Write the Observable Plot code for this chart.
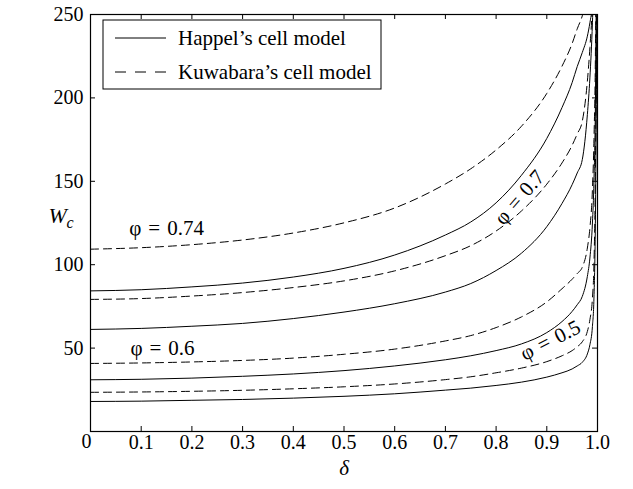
<!DOCTYPE html>
<html><head><meta charset="utf-8">
<script src="https://cdn.jsdelivr.net/npm/d3@7"></script>
<script src="https://cdn.jsdelivr.net/npm/@observablehq/plot@0.6"></script>
<style>body{margin:0;background:#fff}#chart{width:633px;height:489px}</style>
</head><body><div id="chart"></div>
<script>
// ---- data ----
const delta = [0, 0.1, 0.2, 0.3, 0.4, 0.5, 0.6, 0.7, 0.75, 0.8, 0.85, 0.9, 0.93, 0.95, 0.96, 0.97, 0.98, 0.985, 0.99, 0.993, 0.996, 0.999];
const happel50   = [18.0, 18.2, 18.7, 19.2, 20.0, 21.1, 22.6, 24.8, 26.0, 27.6, 29.6, 32.6, 35.2, 37.5, 39.3, 41.5, 46.5, 52, 63, 80, 130, 260];
const kuwabara50 = [23.5, 23.7, 24.1, 24.7, 25.6, 26.8, 28.5, 31.1, 32.8, 35.2, 38.0, 41.9, 45.4, 48.5, 50.8, 53.8, 60, 67, 80, 100, 160, 300];
const happel60   = [31.0, 31.3, 32.0, 33.1, 34.5, 36.5, 39.3, 43.0, 45.4, 48.5, 52.5, 59.3, 65.9, 72.0, 76.0, 81.0, 93, 104, 125, 150, 200, 330];
const kuwabara60 = [40.8, 41.1, 41.7, 42.6, 44.0, 46.3, 49.4, 54.3, 57.5, 62.3, 68.7, 77.7, 85.6, 91.3, 94.7, 98.5, 110, 122, 145, 175, 230, 380];
const happel70   = [61.2, 61.8, 63.1, 64.8, 67.7, 71.6, 76.6, 83.6, 88.7, 96.5, 106.9, 122.8, 136.7, 148, 155, 163, 190, 212, 245, 275, 330, 450];
const kuwabara70 = [79.2, 79.7, 81.2, 83.3, 86.3, 90.3, 96.3, 105.4, 111.4, 120.2, 132.2, 148.3, 161, 171.6, 178.4, 186, 210, 230, 258, 290, 350, 480];
const happel74   = [84.3, 85.0, 86.7, 89.0, 92.6, 97.8, 105.8, 117.8, 125.6, 137.1, 153.6, 175.7, 194.2, 209.2, 218.8, 227.2, 237, 245, 256, 270, 320, 420];
const kuwabara74 = [109.3, 110.2, 112.0, 114.8, 119.0, 125.1, 134, 148.4, 157.5, 168.8, 183, 202.7, 219, 232.6, 241.4, 249.2, 262, 272, 290, 310, 360, 480];

const xTicks = [0.1, 0.2, 0.3, 0.4, 0.5, 0.6, 0.7, 0.8, 0.9, 1.0];
const yTicks = [50, 100, 150, 200, 250];
const tickMarksX = [0, 0.1, 0.2, 0.3, 0.4, 0.5, 0.6, 0.7, 0.8, 0.9, 1.0];
const tickMarksY = [0, 50, 100, 150, 200, 250];

const seriesNames = ["Happel\u2019s cell model", "Kuwabara\u2019s cell model"];
const sp = "\u2004";
const phiLabels = [
  {text: `φ${sp}=${sp}0.74`, d: 0.150, w: 121.7, angle: 0},
  {text: `φ${sp}=${sp}0.6`,  d: 0.142, w: 49.8,  angle: 0},
  {text: `φ${sp}=${sp}0.7`,  d: 0.846, w: 140.3, angle: -49},
  {text: `φ${sp}=${sp}0.5`,  d: 0.907, w: 54.6,  angle: -27}
];

const series = [
  {key: "H50", model: "Happel", v: happel50}, {key: "K50", model: "Kuwabara", v: kuwabara50},
  {key: "H60", model: "Happel", v: happel60}, {key: "K60", model: "Kuwabara", v: kuwabara60},
  {key: "H70", model: "Happel", v: happel70}, {key: "K70", model: "Kuwabara", v: kuwabara70},
  {key: "H74", model: "Happel", v: happel74}, {key: "K74", model: "Kuwabara", v: kuwabara74}
];
const rows = series.flatMap(s => delta.map((d, i) => ({delta: d, W: s.v[i], key: s.key, model: s.model})));

// ---- layout ----
const W = 633, H = 489, mL = 90, mR = 36, mT = 14, mB = 58;
const pw = W - mL - mR, ph = H - mT - mB;
const font = "'Liberation Serif','Times New Roman',serif";
const dash = "8,5";

const marks = [
  Plot.line(rows.filter(r => r.model === "Happel"), {x: "delta", y: "W", z: "key", stroke: "black", strokeWidth: 1, curve: "monotone-x", clip: true}),
  Plot.line(rows.filter(r => r.model === "Kuwabara"), {x: "delta", y: "W", z: "key", stroke: "black", strokeWidth: 1, strokeDasharray: dash, curve: "monotone-x", clip: true}),
  Plot.tickX(tickMarksX, {x: d => d, insetTop: ph - 5, stroke: "black"}),
  Plot.tickX(tickMarksX, {x: d => d, insetBottom: ph - 5, stroke: "black"}),
  Plot.tickY(tickMarksY, {y: d => d, insetRight: pw - 5, stroke: "black"}),
  Plot.tickY(tickMarksY, {y: d => d, insetLeft: pw - 5, stroke: "black"}),
  Plot.axisX(xTicks, {tickSize: 0, tickPadding: 3, tickFormat: d3.format(".1f"), label: null, fontSize: 20}),
  Plot.axisY(yTicks, {tickSize: 0, tickPadding: 7, label: null, fontSize: 20}),
  Plot.text(["0"], {frameAnchor: "bottom-left", text: d => d, dx: -9, dy: 10, fontSize: 20, lineAnchor: "middle"}),
  Plot.text(phiLabels, {x: "d", y: "w", text: "text", rotate: "angle", fontSize: 21, textAnchor: "middle", lineAnchor: "middle"}),
  Plot.text([{t: "W", w: 129}], {frameAnchor: "left", y: "w", text: "t", dx: -42, fontSize: 22, fontStyle: "italic", textAnchor: "start"}),
  Plot.text([{t: "c", w: 129}], {frameAnchor: "left", y: "w", text: "t", dx: -24, dy: 7, fontSize: 16, fontStyle: "italic", textAnchor: "start"}),
  Plot.text([{t: "δ"}], {frameAnchor: "bottom", text: "t", dy: 43, fontSize: 21, fontStyle: "italic"}),
  Plot.frame({stroke: "black", strokeWidth: 1.2})
];

const svg = Plot.plot({
  width: W, height: H, marginLeft: mL, marginRight: mR, marginTop: mT, marginBottom: mB,
  style: {fontFamily: font, fontSize: "20px", background: "white", color: "black"},
  x: {domain: [0, 1]}, y: {domain: [0, 250]},
  marks
});

// legend box inside the plot
const lg = d3.select(svg).append("g").attr("font-family", font).attr("font-size", 21).attr("text-anchor", "start");
const lx = 103, ly = 20, lw = 278, lh = 69;
lg.append("rect").attr("x", lx).attr("y", ly).attr("width", lw).attr("height", lh)
  .attr("fill", "white").attr("stroke", "black").attr("stroke-width", 1);
seriesNames.forEach((name, i) => {
  const yy = ly + 18 + i * 34;
  lg.append("line").attr("x1", lx + 12).attr("x2", lx + 63).attr("y1", yy).attr("y2", yy)
    .attr("stroke", "black").attr("stroke-width", 1).attr("stroke-dasharray", i ? "11,9" : null);
  lg.append("text").attr("x", lx + 75).attr("y", yy).attr("dy", "0.35em").attr("fill", "black").text(name);
});

document.getElementById("chart").appendChild(svg);
</script>
</body></html>
